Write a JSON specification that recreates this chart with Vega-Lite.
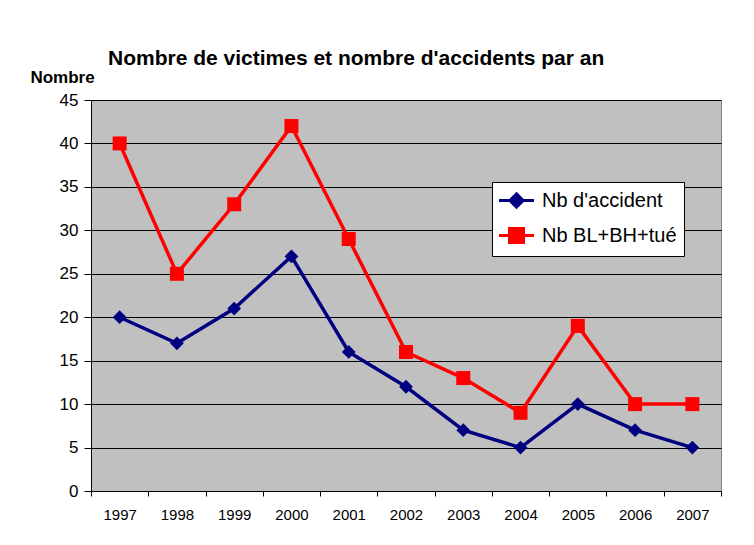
{
  "$schema": "https://vega.github.io/schema/vega-lite/v6.json",
  "width": 630,
  "height": 391,
  "autosize": {"type": "none"},
  "padding": {"left": 91, "top": 100, "right": 33, "bottom": 54},
  "background": "white",
  "title": {
    "text": "Nombre de victimes et  nombre d'accidents par an",
    "anchor": "start",
    "frame": "group",
    "dx": 17,
    "fontSize": 21,
    "font": "Liberation Sans",
    "fontWeight": "bold",
    "color": "black",
    "offset": -1
  },
  "config": {
    "view": {"fill": "#C0C0C0", "stroke": "#808080", "strokeWidth": 1},
    "font": "Liberation Sans"
  },
  "data": {
    "values": [
      {"year": "1997", "series": "Nb d'accident", "value": 20},
      {"year": "1998", "series": "Nb d'accident", "value": 17},
      {"year": "1999", "series": "Nb d'accident", "value": 21},
      {"year": "2000", "series": "Nb d'accident", "value": 27},
      {"year": "2001", "series": "Nb d'accident", "value": 16},
      {"year": "2002", "series": "Nb d'accident", "value": 12},
      {"year": "2003", "series": "Nb d'accident", "value": 7},
      {"year": "2004", "series": "Nb d'accident", "value": 5},
      {"year": "2005", "series": "Nb d'accident", "value": 10},
      {"year": "2006", "series": "Nb d'accident", "value": 7},
      {"year": "2007", "series": "Nb d'accident", "value": 5},
      {"year": "1997", "series": "Nb BL+BH+tué", "value": 40},
      {"year": "1998", "series": "Nb BL+BH+tué", "value": 25},
      {"year": "1999", "series": "Nb BL+BH+tué", "value": 33},
      {"year": "2000", "series": "Nb BL+BH+tué", "value": 42},
      {"year": "2001", "series": "Nb BL+BH+tué", "value": 29},
      {"year": "2002", "series": "Nb BL+BH+tué", "value": 16},
      {"year": "2003", "series": "Nb BL+BH+tué", "value": 13},
      {"year": "2004", "series": "Nb BL+BH+tué", "value": 9},
      {"year": "2005", "series": "Nb BL+BH+tué", "value": 19},
      {"year": "2006", "series": "Nb BL+BH+tué", "value": 10},
      {"year": "2007", "series": "Nb BL+BH+tué", "value": 10}
    ]
  },
  "encoding": {
    "x": {
      "field": "year",
      "type": "ordinal",
      "scale": {"type": "band", "paddingInner": 0, "paddingOuter": 0},
      "axis": {
        "title": null,
        "labelAngle": 0,
        "labelFontSize": 15,
        "labelColor": "black",
        "labelPadding": 11,
        "tickBand": "extent",
        "tickSize": 5,
        "tickColor": "black",
        "domainColor": "black",
        "domainWidth": 1,
        "grid": false
      }
    },
    "y": {
      "field": "value",
      "type": "quantitative",
      "scale": {"domain": [0, 45], "nice": false},
      "axis": {
        "values": [0, 5, 10, 15, 20, 25, 30, 35, 40, 45],
        "title": "Nombre",
        "titleAngle": 0,
        "titleFontSize": 17,
        "titleFontWeight": "bold",
        "titleColor": "black",
        "titleAlign": "center",
        "titleBaseline": "alphabetic",
        "titleX": -29,
        "titleY": -18,
        "labelFontSize": 17,
        "labelColor": "black",
        "labelPadding": 6,
        "tickSize": 7,
        "tickColor": "black",
        "domainColor": "black",
        "grid": true,
        "gridColor": "black",
        "gridWidth": 1,
        "gridOpacity": 1
      }
    },
    "color": {
      "field": "series",
      "type": "nominal",
      "sort": ["Nb d'accident", "Nb BL+BH+tué"],
      "scale": {"domain": ["Nb d'accident", "Nb BL+BH+tué"], "range": ["#000080", "#FF0000"]},
      "legend": {
        "title": null,
        "orient": "none",
        "legendX": 401,
        "legendY": 82,
        "fillColor": "white",
        "strokeColor": "black",
        "padding": 7,
        "labelFontSize": 20,
        "labelColor": "black",
        "labelOffset": 20,
        "rowPadding": 8,
        "symbolSize": 400,
        "symbolStrokeWidth": 3,
        "encode": {
          "symbols": {
            "update": {
              "shape": {"signal": "datum.value === 'Nb d\\'accident' ? 'M-1.15,0H2.35M0.6,-0.66L1.26,0L0.6,0.66L-0.06,0Z' : 'M-1.15,0H2.35M-0.1,-0.7H1.3V0.7H-0.1Z'"},
              "fill": {"signal": "scale('color', datum.value)"},
              "stroke": {"signal": "scale('color', datum.value)"},
              "strokeWidth": {"value": 3},
              "opacity": {"value": 1}
            }
          }
        }
      }
    }
  },
  "layer": [
    {
      "mark": {"type": "line", "strokeWidth": 3.5}
    },
    {
      "transform": [{"filter": "datum.series === 'Nb d\\'accident'"}],
      "mark": {"type": "point", "filled": true, "opacity": 1, "size": 190, "shape": "diamond"}
    },
    {
      "transform": [{"filter": "datum.series !== 'Nb d\\'accident'"}],
      "mark": {"type": "point", "filled": true, "opacity": 1, "size": 196, "shape": "square"}
    }
  ]
}
